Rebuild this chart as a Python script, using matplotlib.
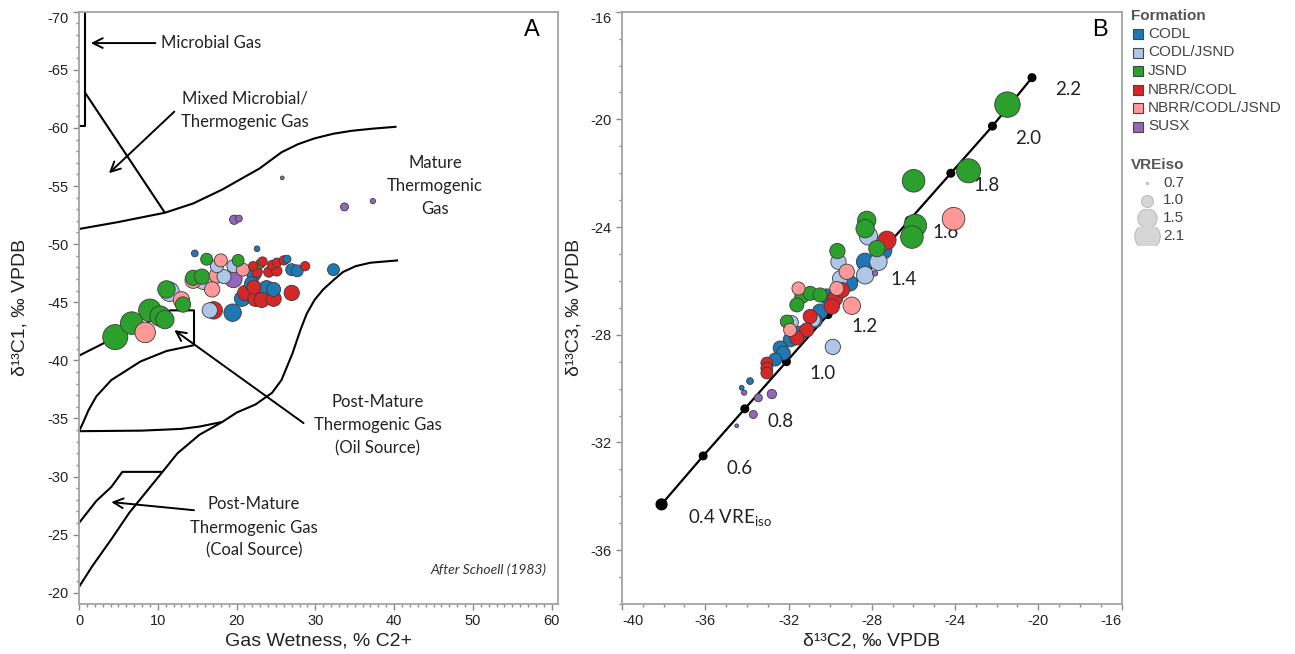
import numpy as np
import pandas as pd
import matplotlib
matplotlib.use("Agg")
import matplotlib.pyplot as plt
from matplotlib.patches import Rectangle
from matplotlib.ticker import MultipleLocator

plt.rcParams['font.family'] = ['Liberation Sans', 'DejaVu Sans']
plt.rcParams['mathtext.fontset'] = 'custom'
plt.rcParams['mathtext.rm'] = 'Lato'
plt.rcParams['mathtext.it'] = 'Lato:italic'

# ---------------- data ----------------
formations = ['CODL', 'CODL/JSND', 'JSND', 'NBRR/CODL', 'NBRR/CODL/JSND', 'SUSX']
colors = ['#1f77b4', '#aec7e8', '#2ca02c', '#d62728', '#ff9896', '#9467bd']

# Panel A: gas wetness (% C2+), d13C1, VREiso
codl_wet = [14.7, 22.6, 26.4, 27.0, 27.7, 32.3, 22.2, 21.9, 23.8, 24.7, 20.7, 19.5]
codl_c1 = [-49.2, -49.6, -48.7, -47.8, -47.7, -47.8, -47.4, -46.6, -46.2, -46.1, -45.3, -44.1]
codl_vre_a = [0.79, 0.76, 0.83, 1.0, 1.0, 1.0, 1.12, 1.12, 1.2, 1.12, 1.2, 1.35]

codljsnd_wet = [17.5, 19.6, 15.8, 18.4, 11.5, 16.6]
codljsnd_c1 = [-48.1, -48.1, -46.8, -47.2, -45.9, -44.3]
codljsnd_vre_a = [1.06, 1.06, 1.28, 1.12, 1.5, 1.2]

jsnd_wet = [16.2, 20.2, 23.0, 14.5, 15.6, 11.1, 13.2, 9.0, 10.3, 10.9, 6.7, 4.6]
jsnd_c1 = [-48.7, -48.6, -48.3, -47.1, -47.2, -46.1, -44.8, -44.3, -43.8, -43.5, -43.2, -42.0]
jsnd_vre_a = [1.0, 1.0, 0.88, 1.2, 1.2, 1.35, 1.2, 1.8, 1.6, 1.42, 1.8, 2.05]

nbrrcodl_wet = [22.1, 23.3, 24.5, 25.1, 26.0, 22.6, 24.1, 25.1, 28.7, 22.2, 21.1, 22.4, 23.2, 24.7, 27.0, 17.1]
nbrrcodl_c1 = [-48.1, -48.5, -48.2, -48.4, -48.6, -47.6, -47.6, -47.7, -48.1, -46.3, -45.8, -45.3, -45.2, -45.3, -45.8, -44.3]
nbrrcodl_vre_a = [0.88, 0.88, 0.88, 0.88, 0.88, 0.93, 0.93, 0.93, 0.88, 1.12, 1.2, 1.2, 1.2, 1.2, 1.2, 1.35]

nbrrcj_wet = [18.0, 20.8, 14.5, 17.5, 16.9, 13.0, 8.4]
nbrrcj_c1 = [-48.6, -47.8, -46.9, -47.3, -46.1, -45.2, -42.4]
nbrrcj_vre_a = [1.06, 1.06, 1.28, 1.2, 1.2, 1.28, 1.6]

susx_wet = [25.8, 19.7, 20.3, 33.7, 37.3, 19.6]
susx_c1 = [-55.7, -52.1, -52.2, -53.2, -53.7, -47.0]
susx_vre_a = [0.72, 0.88, 0.79, 0.83, 0.75, 1.35]

# Panel B: d13C2, d13C3, VREiso
codl_c2 = [-27.47, -28.32, -29.04, -30.16, -30.48, -30.72, -31.44, -31.92, -32.40, -32.25, -32.64, -33.85, -34.25]
codl_c3 = [-24.86, -25.29, -26.09, -26.58, -27.14, -27.48, -27.94, -28.19, -28.49, -28.68, -28.92, -29.72, -29.97]
codl_vre_b = [1.42, 1.35, 1.2, 1.2, 1.2, 1.12, 1.12, 1.12, 1.12, 1.12, 1.06, 0.79, 0.74]

codljsnd_c2 = [-28.16, -27.68, -28.32, -29.60, -29.52, -31.84, -29.87, -30.80]
codljsnd_c3 = [-24.33, -25.29, -25.79, -25.29, -25.91, -27.53, -28.45, -27.45]
codljsnd_vre_b = [1.42, 1.35, 1.35, 1.2, 1.2, 1.06, 1.2, 1.12]

jsnd_c2 = [-21.48, -25.99, -23.35, -25.91, -26.07, -28.24, -28.32, -27.75, -29.65, -31.36, -30.96, -30.48, -31.60, -32.08]
jsnd_c3 = [-19.45, -22.28, -21.91, -23.94, -24.37, -23.75, -24.06, -24.80, -24.89, -26.58, -26.46, -26.52, -26.89, -27.51]
jsnd_vre_b = [2.1, 1.8, 1.95, 1.8, 1.8, 1.42, 1.42, 1.28, 1.2, 1.12, 1.12, 1.12, 1.12, 1.06]

nbrrcodl_c2 = [-27.27, -29.76, -29.44, -29.92, -30.96, -31.12, -31.60, -33.04, -33.04, -33.04]
nbrrcodl_c3 = [-24.49, -26.65, -26.34, -26.95, -27.32, -27.82, -28.12, -29.05, -29.24, -29.42]
nbrrcodl_vre_b = [1.42, 1.2, 1.2, 1.2, 1.12, 1.12, 1.12, 1.0, 1.0, 1.0]

nbrrcj_c2 = [-24.07, -29.20, -31.52, -28.96, -31.92, -29.68]
nbrrcj_c3 = [-23.69, -25.66, -26.28, -26.92, -27.82, -26.28]
nbrrcj_vre_b = [1.8, 1.2, 1.06, 1.35, 1.06, 1.12]

susx_c2 = [-32.80, -33.45, -34.13, -33.69, -34.49, -27.84]
susx_c3 = [-30.20, -30.34, -30.15, -30.96, -31.38, -25.72]
susx_vre_b = [0.88, 0.83, 0.75, 0.83, 0.72, 0.75]

# VREiso reference line (panel B)
line_vre = [0.4, 0.6, 0.8, 1.0, 1.2, 1.4, 1.6, 1.8, 2.0, 2.2]
line_c2 = [-38.1, -36.1, -34.1, -32.1, -30.1, -28.2, -26.2, -24.2, -22.2, -20.3]
line_c3 = [-34.3, -32.5, -30.75, -29.0, -27.25, -25.5, -23.75, -22.0, -20.25, -18.45]

# Schoell (1983) boundaries (panel A)
microbial_box_x = [0.8, 0.8, 0.0]
microbial_box_y = [-70.0, -60.2, -60.2]
mixed_diag_x = [0.8, 10.9]
mixed_diag_y = [-63.0, -52.7]
upper_curve_x = [0.0, 5.0, 10.9, 14.5, 18.2, 20.8, 22.9, 25.7, 27.8, 29.9, 32.3, 34.6, 37.5, 40.3]
upper_curve_y = [-51.3, -51.9, -52.7, -53.5, -54.7, -55.7, -56.5, -57.9, -58.6, -59.1, -59.5, -59.75, -59.95, -60.1]
mature_curve_x = [40.5, 37.0, 35.1, 33.5, 32.3, 31.0, 29.9, 28.9, 28.1, 27.1, 25.7, 24.5, 22.4, 20.0, 18.2, 15.3, 12.5, 10.6, 8.8, 6.4, 4.1, 1.7, 0.0]
mature_curve_y = [-48.6, -48.4, -48.1, -47.6, -46.9, -46.1, -45.2, -44.0, -42.6, -40.6, -38.3, -37.2, -36.2, -35.5, -34.7, -33.6, -32.0, -30.4, -28.9, -26.9, -24.6, -22.3, -20.5]
oil_lower_x = [0.0, 8.0, 13.0, 15.3, 18.2]
oil_lower_y = [-33.9, -33.95, -34.1, -34.3, -34.7]
oil_upper_x = [0.0, 0.5, 1.2, 2.2, 4.1, 7.8, 11.1, 14.6]
oil_upper_y = [-33.9, -34.6, -35.7, -36.9, -38.3, -39.9, -40.8, -41.3]
oil_box_x = [0.0, 4.1, 8.0, 11.6, 14.6, 14.6]
oil_box_y = [-40.4, -41.8, -43.0, -44.3, -44.3, -41.3]
coal_x = [0.0, 2.2, 4.1, 5.5, 10.6]
coal_y = [-26.0, -27.9, -29.1, -30.4, -30.4]

size_legend_vre = [0.7, 1.0, 1.5, 2.1]

# ---------------- helpers ----------------
def msize(v):
    d = np.sqrt(np.maximum(460.0 * (np.asarray(v, dtype=float) - 0.69), 4.5))
    return (0.72 * d) ** 2

panel_a = [(codl_wet, codl_c1, codl_vre_a), (codljsnd_wet, codljsnd_c1, codljsnd_vre_a),
           (jsnd_wet, jsnd_c1, jsnd_vre_a), (nbrrcodl_wet, nbrrcodl_c1, nbrrcodl_vre_a),
           (nbrrcj_wet, nbrrcj_c1, nbrrcj_vre_a), (susx_wet, susx_c1, susx_vre_a)]
panel_b = [(codl_c2, codl_c3, codl_vre_b), (codljsnd_c2, codljsnd_c3, codljsnd_vre_b),
           (jsnd_c2, jsnd_c3, jsnd_vre_b), (nbrrcodl_c2, nbrrcodl_c3, nbrrcodl_vre_b),
           (nbrrcj_c2, nbrrcj_c3, nbrrcj_vre_b), (susx_c2, susx_c3, susx_vre_b)]

def build(panel):
    rows = []
    for f, col, (xs, ys, vs) in zip(formations, colors, panel):
        for x, y, v in zip(xs, ys, vs):
            rows.append((f, col, x, y, v))
    df = pd.DataFrame(rows, columns=['form', 'color', 'x', 'y', 'vre'])
    return df.sort_values('vre', ascending=False, kind='stable')

df_a = build(panel_a)
df_b = build(panel_b)

# ---------------- figure ----------------
W, H = 1295, 654
fig = plt.figure(figsize=(W / 100, H / 100), dpi=100)
fig.patch.set_facecolor('white')
axA = fig.add_axes([79 / W, 50 / H, 479 / W, 592.3 / H])
axB = fig.add_axes([622 / W, 50 / H, 499.5 / W, 592.3 / H])

spine_col = '#a3a3a3'
for ax in (axA, axB):
    for s in ax.spines.values():
        s.set_color(spine_col)
        s.set_linewidth(1.3)
    ax.tick_params(which='both', direction='out', color='#8a8a8a', labelsize=10.5,
                   labelcolor='#222222')
    ax.tick_params(which='major', length=4, width=1)
    ax.tick_params(which='minor', length=2, width=1)

# ----- Panel A -----
axA.set_xlim(0, 60.8)
axA.set_ylim(-19.03, -70)
axA.set_xticks(range(0, 61, 10), [str(v) for v in range(0, 61, 10)])
yt = list(range(-70, -19, 5))
axA.set_yticks(yt, [str(v) for v in yt])
axA.xaxis.set_minor_locator(MultipleLocator(1))
axA.yaxis.set_minor_locator(MultipleLocator(1))
for lbl in axA.get_yticklabels():
    if lbl.get_text() == '-70':
        lbl.set_va('top')

lk = dict(color='black', lw=1.5, solid_capstyle='butt', zorder=1)
for xs, ys in [(microbial_box_x, microbial_box_y), (mixed_diag_x, mixed_diag_y),
               (upper_curve_x, upper_curve_y), (mature_curve_x, mature_curve_y),
               (oil_lower_x, oil_lower_y), (oil_upper_x, oil_upper_y),
               (oil_box_x, oil_box_y), (coal_x, coal_y)]:
    axA.plot(xs, ys, **lk)

ann_font = dict(family='Lato', fontsize=12, color='#222222', linespacing=1.55)
arrow = dict(arrowstyle='->,head_length=0.7,head_width=0.35', color='black', lw=1.4,
             shrinkA=0, shrinkB=0)
axA.annotate('', xy=(1.5, -67.3), xytext=(9.7, -67.3), arrowprops=arrow)
axA.text(10.4, -67.3, 'Microbial Gas', ha='left', va='center', **ann_font)
axA.annotate('', xy=(3.8, -56.1), xytext=(12.1, -61.4), arrowprops=arrow)
axA.text(21.0, -61.5, 'Mixed Microbial/\nThermogenic Gas', ha='center', va='center', **ann_font)
axA.text(45.2, -55.0, 'Mature\nThermogenic\nGas', ha='center', va='center', **ann_font)
axA.annotate('', xy=(12.1, -42.6), xytext=(28.5, -34.6), arrowprops=arrow)
axA.text(37.9, -34.4, 'Post-Mature\nThermogenic Gas\n(Oil Source)', ha='center', va='center', **ann_font)
axA.annotate('', xy=(4.1, -27.8), xytext=(14.6, -27.1), arrowprops=arrow)
axA.text(22.2, -25.6, 'Post-Mature\nThermogenic Gas\n(Coal Source)', ha='center', va='center', **ann_font)
axA.text(59.3, -22.0, 'After Schoell (1983)', ha='right', va='center', family='Lato',
         style='italic', fontsize=10, color='#333333')

axA.scatter(df_a['x'], df_a['y'], s=msize(df_a['vre']), c=df_a['color'],
            edgecolors='#3a3a3a', linewidths=0.6, zorder=3)

axA.text(0.946, 0.969, 'A', transform=axA.transAxes, fontsize=17, ha='center', va='center')
axA.set_xlabel('Gas Wetness, % C2+', fontsize=14, color='#222222')
axA.set_ylabel('δ¹³C1, ‰ VPDB', fontsize=14, color='#222222')
axA.xaxis.set_label_coords(0.5, -0.048)
axA.yaxis.set_label_coords(-0.106, 0.5)

# ----- Panel B -----
axB.set_xlim(-40, -16)
axB.set_ylim(-38, -16)
xt = list(range(-40, -15, 4))
axB.set_xticks(xt, [str(v) for v in xt])
ytb = list(range(-36, -15, 4))
axB.set_yticks(ytb, [str(v) for v in ytb])
axB.xaxis.set_minor_locator(MultipleLocator(1))
axB.yaxis.set_minor_locator(MultipleLocator(1))
for lbl in axB.get_xticklabels():
    if lbl.get_text() == '-40':
        lbl.set_ha('left')
    if lbl.get_text() == '-16':
        lbl.set_ha('right')
for lbl in axB.get_yticklabels():
    if lbl.get_text() == '-16':
        lbl.set_va('top')

axB.plot(line_c2, line_c3, color='black', lw=1.6, zorder=1)
dot_sizes = [60 if v == 0.4 else 30 for v in line_vre]
axB.scatter(line_c2, line_c3, s=dot_sizes, color='black', zorder=2)
for v, x, y in zip(line_vre, line_c2, line_c3):
    if v == 0.4:
        axB.annotate(f'{v:.1f} VRE' + r'$_{\mathrm{iso}}$', (x, y), xytext=(19, -9.5),
                     textcoords='offset points', ha='left', va='center',
                     family='Lato', fontsize=13.5, color='#222222')
    else:
        axB.annotate(f'{v:.1f}', (x, y), xytext=(26, -8.8), textcoords='offset points',
                     ha='center', va='center', family='Lato', fontsize=13.5, color='#222222')

axB.scatter(df_b['x'], df_b['y'], s=msize(df_b['vre']), c=df_b['color'],
            edgecolors='#3a3a3a', linewidths=0.6, zorder=3)

axB.text(0.957, 0.969, 'B', transform=axB.transAxes, fontsize=17, ha='center', va='center')
axB.set_xlabel('δ¹³C2, ‰ VPDB', fontsize=14, color='#222222')
axB.set_ylabel('δ¹³C3, ‰ VPDB', fontsize=14, color='#222222')
axB.xaxis.set_label_coords(0.5, -0.048)
axB.yaxis.set_label_coords(-0.080, 0.5)

# ----- Legend (figure pixel space) -----
lax = fig.add_axes([0, 0, 1, 1], zorder=5)
lax.set_xlim(0, W)
lax.set_ylim(H, 0)
lax.axis('off')
lax.patch.set_alpha(0)

lax.text(1131, 16, 'Formation', fontsize=11, fontweight='bold', color='#555555',
         ha='left', va='center')
row_y = [34, 52.5, 71, 89.5, 108, 126.5]
for f, col, y in zip(formations, colors, row_y):
    lax.add_patch(Rectangle((1133, y - 5), 10, 10, facecolor=col, edgecolor='#444444', lw=0.8))
    lax.text(1148, y, f, fontsize=11, color='#444444', ha='left', va='center')

lax.text(1131, 165, 'VREiso', fontsize=11, fontweight='bold', color='#555555',
         ha='left', va='center')
size_y = [183, 200.5, 218, 236]
for v, y in zip(size_legend_vre, size_y):
    sc = lax.scatter([1147], [y], s=msize([v]), color='#d6d6d6', edgecolors='#bdbdbd',
                     linewidths=0.8)
    clip = Rectangle((1125, y - 9), 40, 18, transform=lax.transData)
    sc.set_clip_path(clip)
    lax.text(1163, y, f'{v:.1f}', fontsize=11, color='#444444', ha='left', va='center')

fig.savefig('out.png', dpi=100, facecolor='white')
